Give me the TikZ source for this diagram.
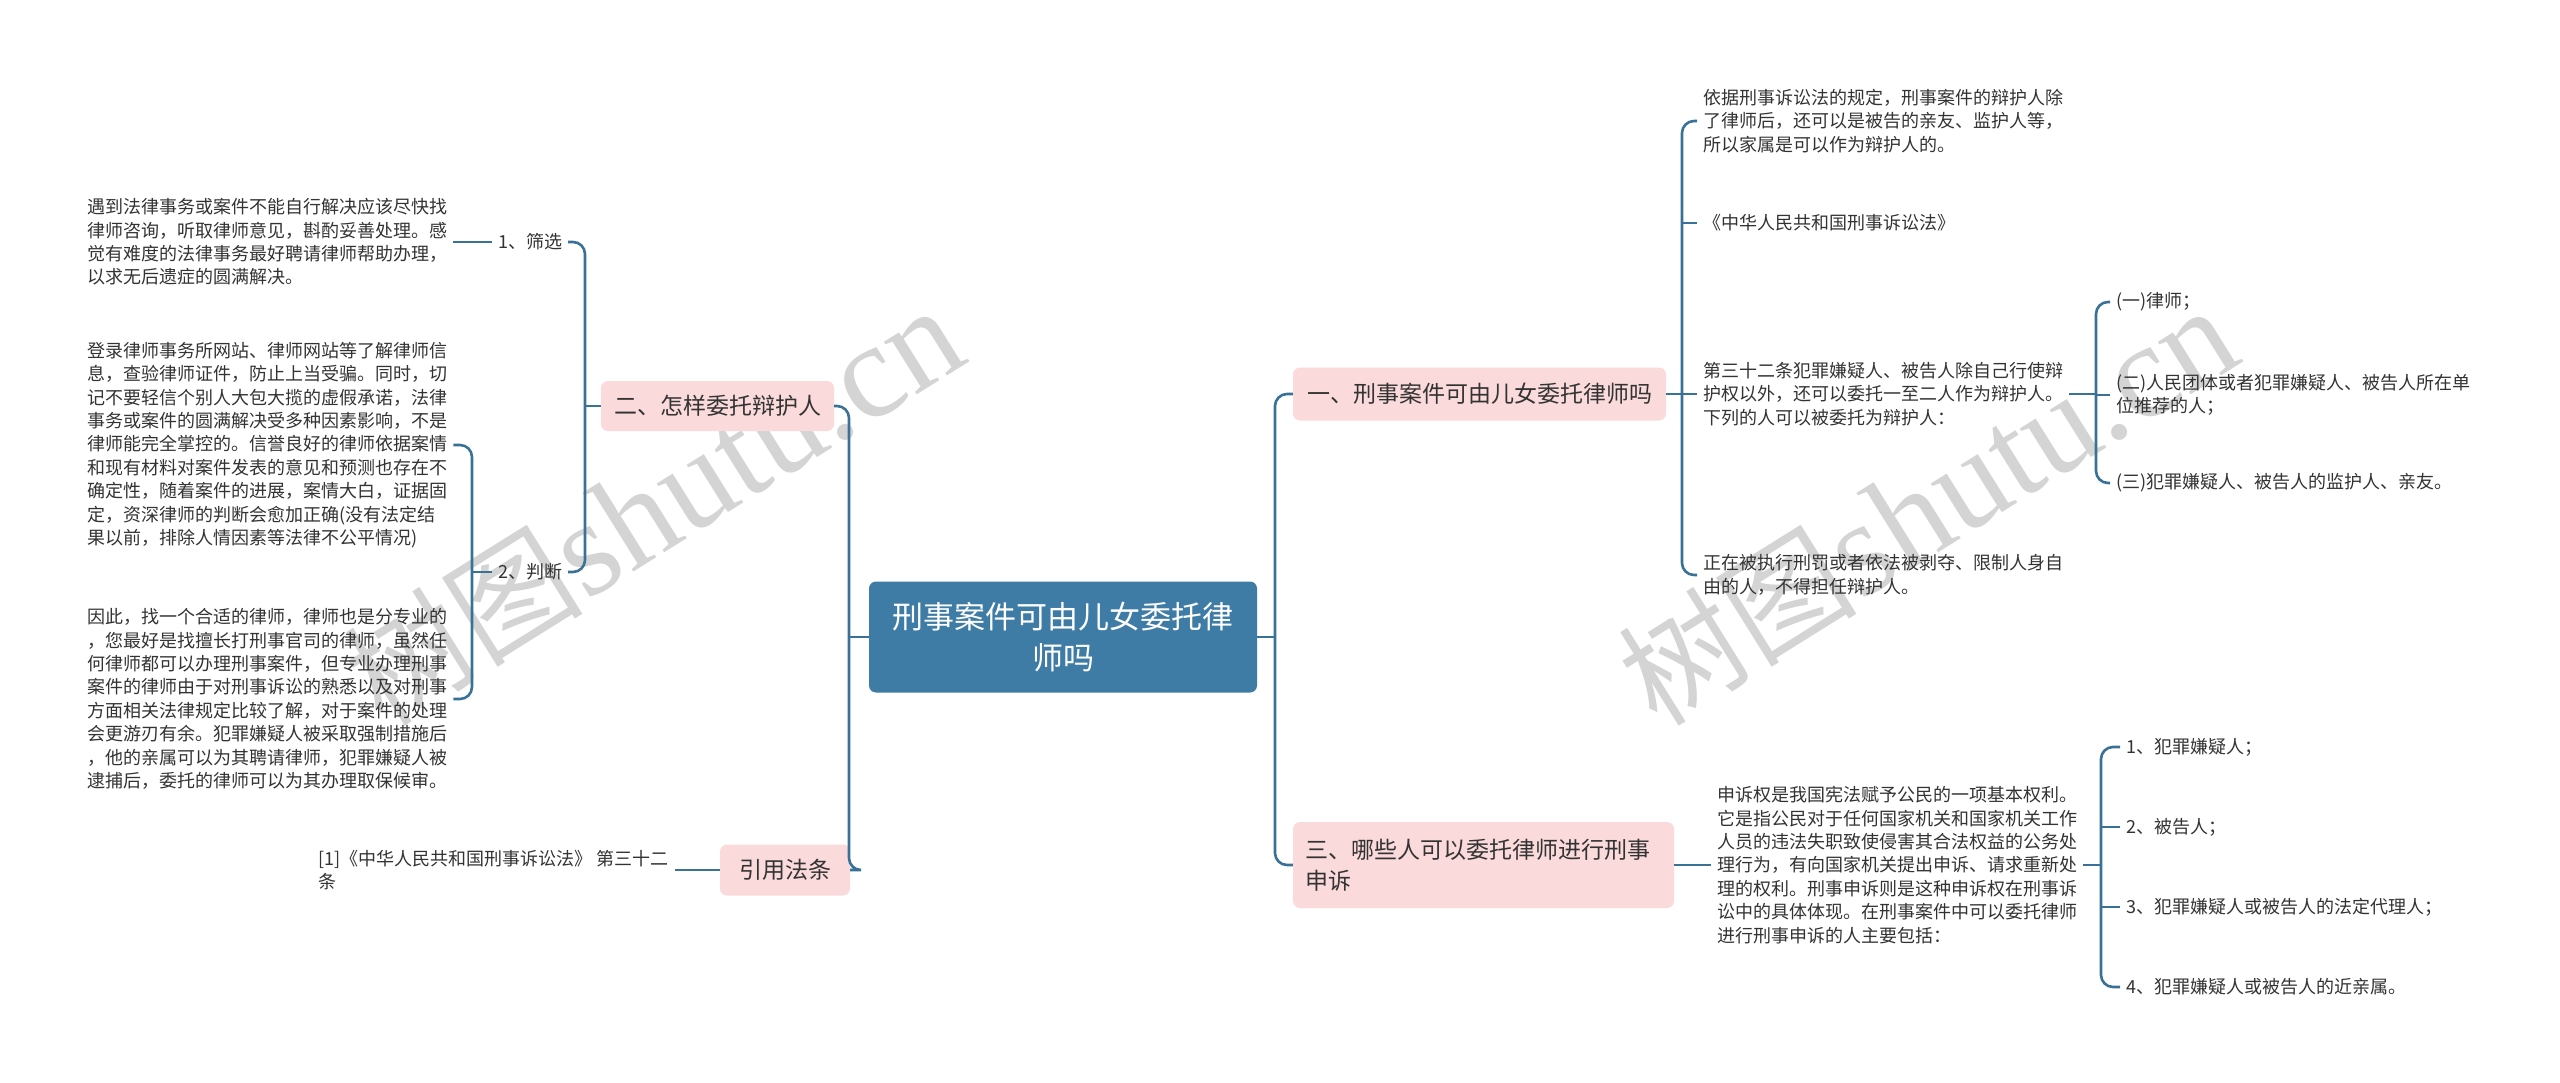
\documentclass[tikz,border=0pt]{standalone}
\usepackage{fontspec}
\setmainfont{Noto Sans CJK SC}
\newfontfamily\wmlatin{Liberation Serif}
\newfontfamily\wmcjk{Noto Sans CJK SC}
\definecolor{rootblue}{HTML}{3E7CA6}
\definecolor{pinkbg}{HTML}{FADADA}
\definecolor{linec}{HTML}{3A7197}
\definecolor{txtc}{HTML}{333333}
\definecolor{wmc}{HTML}{D4D4D4}
\begin{document}
\begin{tikzpicture}[x=1pt,y=-1pt,
  rootbox/.style={fill=rootblue, rounded corners=7pt, text=white, align=center,
    font=\fontsize{31}{41}\selectfont, minimum width=388pt, minimum height=111pt, inner sep=0pt},
  pinkbox/.style={fill=pinkbg, rounded corners=7pt, text=txtc,
    font=\fontsize{23}{31}\selectfont, inner sep=0pt},
  txt/.style={text=txtc, align=left, font=\fontsize{18}{23.4}\selectfont,
    inner xsep=6pt, inner ysep=2pt, anchor=west},
  lbl/.style={text=txtc, font=\fontsize{18}{23.4}\selectfont, inner xsep=6pt, inner ysep=2pt},
  conn/.style={draw=linec, line width=2.6pt, rounded corners=12pt},
  wm/.style={text=wmc, rotate=32, inner sep=0pt}
]
\useasboundingbox[fill=white] (0,0) rectangle (2560,1083);

% watermarks
\node[wm] (wmL) at (653,506) {\wmcjk\fontsize{120}{120}\selectfont 树图\wmlatin\fontsize{135}{135}\selectfont shutu.cn};
\node[wm] (wmR) at (1927,506) {\wmcjk\fontsize{120}{120}\selectfont 树图\wmlatin\fontsize{135}{135}\selectfont shutu.cn};

% root and main branches
\node[rootbox] (root) at (1063,637) {刑事案件可由儿女委托律\\师吗};
\node[pinkbox, minimum width=373pt, minimum height=53pt] (P1) at (1479.5,394) {一、刑事案件可由儿女委托律师吗};
\node[pinkbox, minimum width=233pt, minimum height=50pt] (P2) at (717.5,406) {二、怎样委托辩护人};
\node[pinkbox, text width=357pt, align=left, inner xsep=12pt, minimum height=86pt] (P3) at (1483.5,865) {三、哪些人可以委托律师进行刑事\\申诉};
\node[pinkbox, minimum width=130pt, minimum height=51pt] (P4) at (785,870) {引用法条};

% branch 一
\node[txt] (T1) at (1697,121) {依据刑事诉讼法的规定，刑事案件的辩护人除\\了律师后，还可以是被告的亲友、监护人等，\\所以家属是可以作为辩护人的。};
\node[txt] (T2) at (1697,223) {《中华人民共和国刑事诉讼法》};
\node[txt] (T3) at (1697,394) {第三十二条犯罪嫌疑人、被告人除自己行使辩\\护权以外，还可以委托一至二人作为辩护人。\\下列的人可以被委托为辩护人：};
\node[txt] (T4) at (1697,575) {正在被执行刑罚或者依法被剥夺、限制人身自\\由的人，不得担任辩护人。};
\node[txt] (S1) at (2110,302) {(一)律师；};
\node[txt] (S2) at (2110,395) {(二)人民团体或者犯罪嫌疑人、被告人所在单\\位推荐的人；};
\node[txt] (S3) at (2110,483) {(三)犯罪嫌疑人、被告人的监护人、亲友。};

% branch 三
\node[txt] (U) at (1711,865) {申诉权是我国宪法赋予公民的一项基本权利。\\它是指公民对于任何国家机关和国家机关工作\\人员的违法失职致使侵害其合法权益的公务处\\理行为，有向国家机关提出申诉、请求重新处\\理的权利。刑事申诉则是这种申诉权在刑事诉\\讼中的具体体现。在刑事案件中可以委托律师\\进行刑事申诉的人主要包括：};
\node[txt] (V1) at (2120,747) {1、犯罪嫌疑人；};
\node[txt] (V2) at (2120,827) {2、被告人；};
\node[txt] (V3) at (2120,907) {3、犯罪嫌疑人或被告人的法定代理人；};
\node[txt] (V4) at (2120,987) {4、犯罪嫌疑人或被告人的近亲属。};

% branch 二
\node[lbl] (Q1) at (530,242) {1、筛选};
\node[lbl] (Q2) at (530,572) {2、判断};
\node[txt] (R1) at (81,242) {遇到法律事务或案件不能自行解决应该尽快找\\律师咨询，听取律师意见，斟酌妥善处理。感\\觉有难度的法律事务最好聘请律师帮助办理，\\以求无后遗症的圆满解决。};
\node[txt] (R2a) at (81,445) {登录律师事务所网站、律师网站等了解律师信\\息，查验律师证件，防止上当受骗。同时，切\\记不要轻信个别人大包大揽的虚假承诺，法律\\事务或案件的圆满解决受多种因素影响，不是\\律师能完全掌控的。信誉良好的律师依据案情\\和现有材料对案件发表的意见和预测也存在不\\确定性，随着案件的进展，案情大白，证据固\\定，资深律师的判断会愈加正确(没有法定结\\果以前，排除人情因素等法律不公平情况)};
\node[txt] (R2b) at (81,699) {因此，找一个合适的律师，律师也是分专业的\\，您最好是找擅长打刑事官司的律师，虽然任\\何律师都可以办理刑事案件，但专业办理刑事\\案件的律师由于对刑事诉讼的熟悉以及对刑事\\方面相关法律规定比较了解，对于案件的处理\\会更游刃有余。犯罪嫌疑人被采取强制措施后\\，他的亲属可以为其聘请律师，犯罪嫌疑人被\\逮捕后，委托的律师可以为其办理取保候审。};

% branch 引用法条
\node[txt] (W) at (312,870) {[1]《中华人民共和国刑事诉讼法》 第三十二\\条};

% connectors
\draw[conn] (P2.east) -- (849,406) -- (849,870) -- (P4.east);
\draw[conn] (root.west) -- (849,637);
\draw[conn] (P1.west) -- (1275,394) -- (1275,865) -- (P3.west);
\draw[conn] (root.east) -- (1275,637);

\draw[conn] (T1.west) -- (1682,121) -- (1682,575) -- (T4.west);
\draw[conn] (P1.east) -- (1682,394);
\draw[conn] (T2.west) -- (1682,223);
\draw[conn] (T3.west) -- (1682,394);

\draw[conn] (S1.west) -- (2096,302) -- (2096,483) -- (S3.west);
\draw[conn] (S2.west) -- (2096,395);
\draw[conn] (T3.east) -- (2096,394);

\draw[conn] (P3.east) -- (U.west);
\draw[conn] (V1.west) -- (2101,747) -- (2101,987) -- (V4.west);
\draw[conn] (V2.west) -- (2101,827);
\draw[conn] (V3.west) -- (2101,907);
\draw[conn] (U.east) -- (2101,865);

\draw[conn] (Q1.east) -- (585,242) -- (585,572) -- (Q2.east);
\draw[conn] (P2.west) -- (585,406);
\draw[conn] (R1.east) -- (Q1.west);
\draw[conn] (R2a.east) -- (472,445) -- (472,699) -- (R2b.east);
\draw[conn] (Q2.west) -- (472,572);

\draw[conn] (W.east) -- (P4.west);
\end{tikzpicture}
\end{document}
